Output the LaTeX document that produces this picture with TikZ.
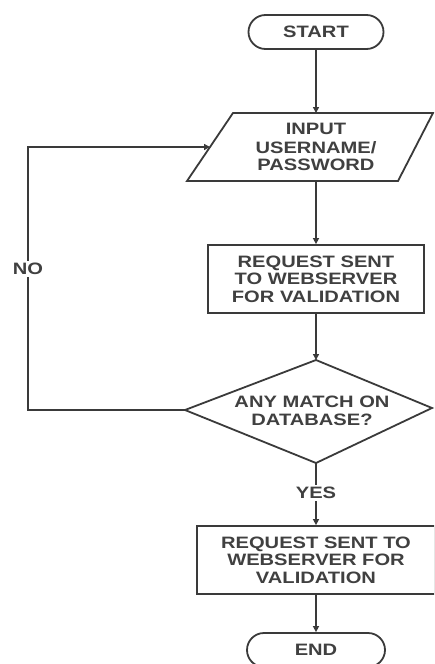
\documentclass[tikz,border=0pt]{standalone}
\usepackage{fontspec}
\setmainfont{Liberation Sans}[FakeStretch=1.22]
\usetikzlibrary{shapes.misc,arrows.meta}
\definecolor{ink}{HTML}{3A3A3A}
\definecolor{txt}{HTML}{404040}
\tikzset{
  every node/.style={text=txt,font=\fontsize{16.5}{17.5}\selectfont\bfseries,align=center,inner sep=0pt},
  line/.style={draw=ink,line width=1.8pt},
  arr/.style={line,-{Triangle[length=6pt,width=6pt]}},
  term/.style={line,rounded rectangle,minimum width=135pt,minimum height=34pt},
  proc/.style={line,rectangle,minimum height=68pt},
  lbl/.style={fill=white,inner sep=2pt}
}
\begin{document}
\begin{tikzpicture}[x=1pt,y=-1pt]
\useasboundingbox (0,0) rectangle (434,664);
\clip (0,0) rectangle (434,664);
% terminals
\node[term] (start) at (316,32) {START};
\node[term,minimum width=138pt] (end) at (316,650) {END};
% parallelogram
\coordinate (pTL) at (233,113);
\coordinate (pTR) at (433,113);
\coordinate (pBR) at (398,181);
\coordinate (pBL) at (187,181);
\draw[line,line join=miter] (pTL) -- (pTR) -- (pBR) -- (pBL) -- cycle;
\node (inp) at (316,147) {INPUT\\[1.5pt]USERNAME/\\PASSWORD};
\coordinate (pT) at (316,113);
\coordinate (pB) at (316,181);
\coordinate (pL) at (210,147);
% process 1
\node[proc,minimum width=216pt] (r1) at (316,279) {REQUEST SENT\\TO WEBSERVER\\FOR VALIDATION};
% decision
\coordinate (dT) at (316,360);
\coordinate (dR) at (432,408);
\coordinate (dB) at (316,463);
\coordinate (dL) at (185,410);
\draw[line,line join=miter] (dT) -- (dR) -- (dB) -- (dL) -- cycle;
\node (dec) at (312,411) {ANY MATCH ON\\DATABASE?};
% process 2
\node[proc,minimum width=238pt] (r2) at (316,560) {REQUEST SENT TO\\WEBSERVER FOR\\VALIDATION};
% loop corners
\coordinate (cB) at (28,410);
\coordinate (cT) at (28,147);
% connectors
\draw[arr] (start.south) -- (pT);
\draw[arr] (pB) -- (r1.north);
\draw[arr] (r1.south) -- (dT);
\draw[arr] (dB) -- (r2.north);
\draw[arr] (r2.south) -- (end.north);
\draw[arr] (dL) -- (cB) -- (cT) -- (pL);
% labels
\node[lbl] (no) at (28,269) {NO};
\node[lbl] (yes) at (316,493) {YES};
\end{tikzpicture}
\end{document}
